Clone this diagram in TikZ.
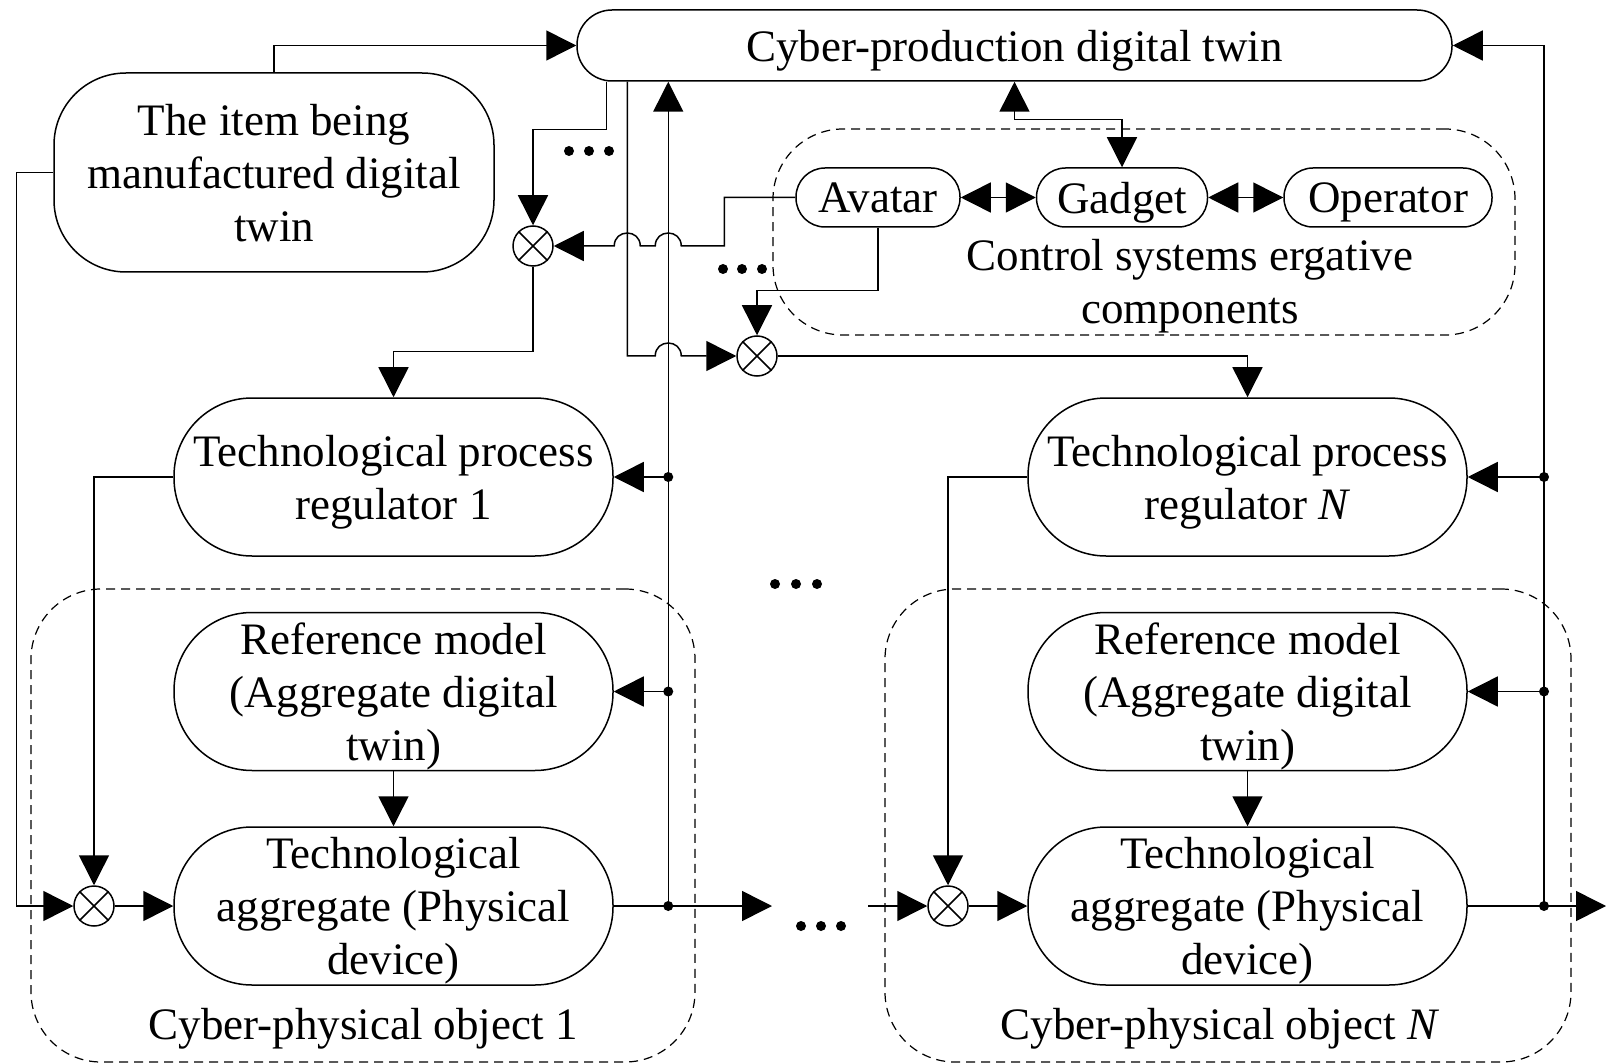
\documentclass[tikz,border=0pt]{standalone}
\usepackage{fontspec}
\setmainfont{Liberation Serif}
\usetikzlibrary{arrows.meta}

\begin{document}
\begin{tikzpicture}[x=1pt,y=-1pt,
  line width=1.5pt,
  >={Triangle[length=30pt,width=30pt]},
  every node/.style={font=\fontsize{45}{53}\selectfont, inner sep=0pt, text depth=0pt},
  unitbox/.style={draw, rectangle, align=center, minimum width=439pt,
                  minimum height=158pt, rounded corners=78pt},
  smallbox/.style={draw, rectangle, minimum height=59pt, rounded corners=29pt},
  dashbox/.style={draw, rectangle, dash pattern=on 9pt off 6pt, line width=1.2pt,
                  rounded corners=70pt},
  sumnode/.style={draw, circle, minimum size=40pt, fill=white},
  jdot/.style={circle, fill, minimum size=10pt},
  arr/.style={->},
  biarr/.style={<->}
]
\useasboundingbox (0,0) rectangle (1606,1064);

% grouping frames
\node[dashbox, minimum width=742pt, minimum height=206pt] (ctrl) at (1144,232) {};
\node[dashbox, minimum width=664pt, minimum height=473pt] (obj1) at (363,825.5) {};
\node[dashbox, minimum width=686pt, minimum height=473pt] (objN) at (1228,825.5) {};

% main blocks
\node[draw, rectangle, minimum width=875pt, minimum height=71pt, rounded corners=35pt]
  (cpdt) at (1014.5,45.5) {Cyber-production digital twin};
\node[draw, rectangle, align=center, minimum width=440pt, minimum height=199pt,
      rounded corners=72pt] (item) at (274,172.5) {The item being\\manufactured digital\\twin};

\node[smallbox, minimum width=164pt] (avatar) at (878,197.5) {Avatar};
\node[smallbox, minimum width=171pt] (gadget) at (1122,197.5) {Gadget};
\node[smallbox, minimum width=208pt] (operator) at (1388,197.5) {Operator};
\node[align=center] (ctrllabel) at (1190,281) {Control systems ergative\\components};

\node[unitbox] (reg1) at (393.5,477) {Technological process\\regulator 1};
\node[unitbox] (ref1) at (393.5,691.5) {Reference model\\(Aggregate digital\\twin)};
\node[unitbox] (agg1) at (393.5,906) {Technological\\aggregate (Physical\\device)};
\node (obj1label) at (363,1024) {Cyber-physical object 1};

\node[unitbox] (regN) at (1247.5,477) {Technological process\\regulator \textit{N}};
\node[unitbox] (refN) at (1247.5,691.5) {Reference model\\(Aggregate digital\\twin)};
\node[unitbox] (aggN) at (1247.5,906) {Technological\\aggregate (Physical\\device)};
\node (objNlabel) at (1220,1024) {Cyber-physical object \textit{N}};

% multiplying junctions
\node[sumnode] (s1) at (533,246) {};
\node[sumnode] (s2) at (757,356) {};
\node[sumnode] (sb1) at (94,906) {};
\node[sumnode] (sbN) at (948,906) {};
\foreach \s in {s1,s2,sb1,sbN}{
  \draw (\s.north east) -- (\s.south west) (\s.north west) -- (\s.south east);
}

% bus and free-end coordinates
\coordinate (c1) at ([xshift=30pt]cpdt.south west);
\coordinate (c2) at ([xshift=51pt]cpdt.south west);
\coordinate (busL) at ([xshift=92pt]cpdt.south west);
\coordinate (busR) at (1544,45.5);
\coordinate (out1) at (772,906);
\coordinate (inN) at (868,906);
\coordinate (outN) at (1606,906);

% item digital twin links
\draw[arr] (item.north) |- (cpdt.west);
\draw[arr] (item.west) -- ++(-37,0) |- (sb1.west);

% object 1 chain
\draw[arr] (sb1.east) -- (agg1.west);
\draw[arr] (reg1.west) -| (sb1.north);
\draw[arr] (ref1.south) -- (agg1.north);
\draw[arr] (agg1.east) -- (out1);
\draw[arr] (agg1.east -| busL) -- (busL);
\draw[arr] (reg1.east -| busL) -- (reg1.east);
\draw[arr] (ref1.east -| busL) -- (ref1.east);
\node[jdot] (j1) at (reg1.east -| busL) {};
\node[jdot] (j2) at (ref1.east -| busL) {};
\node[jdot] (j3) at (agg1.east -| busL) {};

% object N chain
\draw[arr] (inN) -- (sbN.west);
\draw[arr] (sbN.east) -- (aggN.west);
\draw[arr] (regN.west) -| (sbN.north);
\draw[arr] (refN.south) -- (aggN.north);
\draw[arr] (aggN.east) -- (outN);
\draw[arr] (aggN.east -| busR) |- (cpdt.east);
\draw[arr] (regN.east -| busR) -- (regN.east);
\draw[arr] (refN.east -| busR) -- (refN.east);
\node[jdot] (j4) at (regN.east -| busR) {};
\node[jdot] (j5) at (refN.east -| busR) {};
\node[jdot] (j6) at (aggN.east -| busR) {};

% production twin to junctions
\draw[arr] (c1) -- ++(0,48) -| (s1.north);
\draw[arr] (c2) |- ([xshift=-13pt]s2.west -| busL)
  .. controls +(0,-17.3) and +(0,-17.3) .. ++(26,0) -- (s2.west);
\draw[arr] (s1.south) -- ++(0,85) -| (reg1.north);
\draw[arr] (s2.east) -| (regN.north);

% avatar to junctions (hopping over the vertical lines)
\draw[arr] (avatar.west) -- ++(-71,0) |- ([xshift=13pt]s1.east -| busL)
  .. controls +(0,-17.3) and +(0,-17.3) .. ++(-26,0)
  -- ([xshift=13pt]s1.east -| c2)
  .. controls +(0,-17.3) and +(0,-17.3) .. ++(-26,0)
  -- (s1.east);
\draw[arr] (avatar.south) -- ++(0,63) -| (s2.north);

% ergative components links
\draw[biarr] (cpdt.south) -- ++(0,38) -| (gadget.north);
\draw[biarr] (avatar.east) -- (gadget.west);
\draw[biarr] (gadget.east) -- (operator.west);

% ellipses
\foreach \x/\y in {569/151,589/151,609/151, 723/269,742/269,762/269,
                   775/584,796/584,817/584, 801/926,821/926,841/926}{
  \fill (\x,\y) circle (5pt);
}
\end{tikzpicture}
\end{document}
